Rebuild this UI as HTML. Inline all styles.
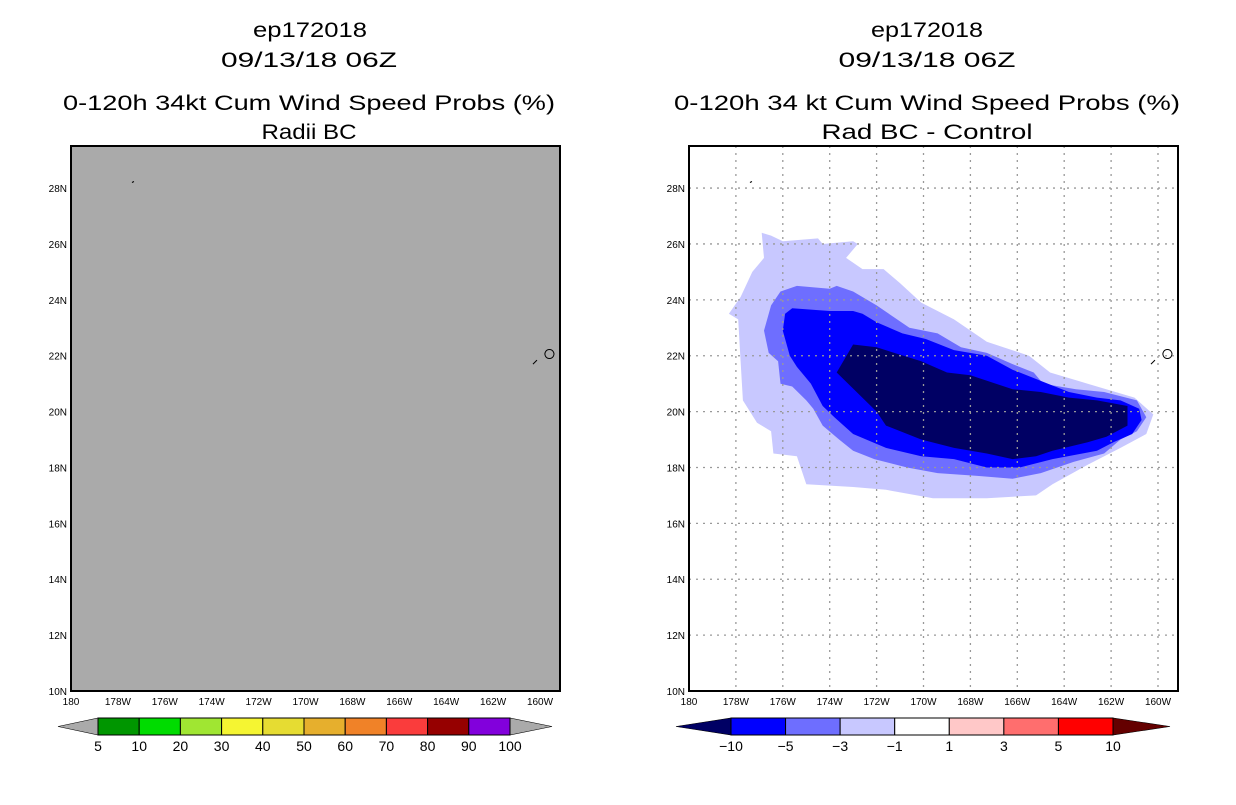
<!DOCTYPE html>
<html><head><meta charset="utf-8"><style>
body{margin:0;background:#fff;}
svg text{font-family:"Liberation Sans",sans-serif;}
</style></head><body>
<svg id="s" width="1236" height="800" xmlns="http://www.w3.org/2000/svg">
<g font-size="21" text-anchor="middle" fill="#000" lengthAdjust="spacingAndGlyphs">
<text x="310" y="37" textLength="114" lengthAdjust="spacingAndGlyphs">ep172018</text>
<text x="309" y="67" textLength="176" lengthAdjust="spacingAndGlyphs">09/13/18 06Z</text>
<text x="309" y="110" textLength="492" lengthAdjust="spacingAndGlyphs">0-120h 34kt Cum Wind Speed Probs (%)</text>
<text x="309" y="139" textLength="95" lengthAdjust="spacingAndGlyphs">Radii BC</text>
<text x="927" y="37" textLength="112" lengthAdjust="spacingAndGlyphs">ep172018</text>
<text x="927" y="67" textLength="177" lengthAdjust="spacingAndGlyphs">09/13/18 06Z</text>
<text x="927" y="110" textLength="506" lengthAdjust="spacingAndGlyphs">0-120h 34 kt Cum Wind Speed Probs (%)</text>
<text x="927" y="139" textLength="211" lengthAdjust="spacingAndGlyphs">Rad BC - Control</text>
</g>
</svg>
<script>
const lonTicks=[180,178,176,174,172,170,168,166,164,162,160];
const latTicks=[10,12,14,16,18,20,22,24,26,28];
const leftLevels=["5","10","20","30","40","50","60","70","80","90","100"];
const leftColors=["#009600","#00dc00","#a0e632","#f5f532","#e6dc32","#e6af2d","#f08228","#fa3c3c","#960000","#8200dc"];
const rightLevels=["-10","-5","-3","-1","1","3","5","10"];
const rightColors=["#0000ff","#6e6eff","#c8c8ff","#ffffff","#ffc8c8","#ff6e6e","#ff0000"];
const lightLon=[-176.9,-176.5,-176.0,-174.5,-174.3,-173.0,-172.8,-173.3,-172.6,-171.7,-171.0,-170.1,-168.7,-167.3,-165.5,-164.6,-163.0,-161.0,-160.2,-160.5,-161.6,-163.0,-164.5,-165.2,-167.3,-169.6,-171.6,-173.0,-175.0,-175.4,-176.4,-176.5,-177.1,-177.7,-177.8,-177.9,-178.3,-177.8,-177.3,-176.8];
const lightLat=[26.4,26.3,26.1,26.2,26.0,26.1,26.0,25.5,25.1,25.1,24.6,23.9,23.3,22.5,22.0,21.4,21.0,20.5,19.9,19.2,18.7,18.1,17.4,17.0,16.9,16.9,17.2,17.3,17.4,18.4,18.5,19.3,19.6,20.4,21.8,23.3,23.5,24.1,25.0,25.5];
const medLon=[-176.1,-175.4,-174.0,-173.7,-173.0,-172.0,-170.6,-169.4,-168.4,-167.3,-166.2,-165.3,-164.9,-163.5,-162.3,-160.9,-160.5,-160.9,-161.6,-162.3,-163.6,-165.0,-166.2,-167.7,-169.4,-170.7,-172.1,-173.0,-173.6,-174.3,-174.7,-175.0,-175.6,-176.1,-176.2,-176.6,-176.8,-176.5];
const medLat=[24.3,24.5,24.4,24.5,24.3,23.8,23.0,22.8,22.3,22.1,21.7,21.4,21.0,20.8,20.7,20.4,19.8,19.3,19.0,18.5,18.2,17.8,17.6,17.7,17.8,18.0,18.3,18.6,19.0,19.5,20.1,20.4,20.9,21.0,21.8,22.1,22.9,23.8];
const blueLon=[-175.9,-175.6,-174.0,-173.0,-172.6,-172.0,-170.9,-169.9,-168.7,-167.3,-166.2,-165.0,-163.8,-162.6,-161.6,-160.8,-160.7,-161.1,-161.9,-162.6,-164.5,-165.9,-167.3,-168.7,-170.1,-171.6,-173.0,-173.8,-174.3,-174.8,-175.4,-175.7,-176.0];
const blueLat=[23.5,23.7,23.6,23.6,23.5,23.2,22.8,22.6,22.2,22.0,21.5,21.1,20.7,20.5,20.4,20.1,19.7,19.2,18.9,18.6,18.3,18.0,18.0,18.3,18.4,18.7,19.2,19.8,20.2,21.0,21.6,22.0,22.9];
const navyLon=[-173.0,-172.0,-170.1,-169.0,-168.0,-166.2,-165.0,-163.8,-162.6,-161.3,-161.3,-161.3,-162.2,-163.0,-164.5,-165.2,-166.2,-167.3,-168.7,-170.1,-171.6,-172.0,-173.7];
const navyLat=[22.4,22.3,21.8,21.4,21.3,20.8,20.7,20.5,20.4,20.2,19.9,19.5,19.1,18.9,18.6,18.4,18.3,18.5,18.7,19.0,19.5,20.0,21.4];

const NS='http://www.w3.org/2000/svg';
const svg=document.getElementById('s');
const PXD=23.45, PYD=27.94, X0L=71, X0R=689, YB=691, YT=146, W=489;
function el(t,a,p){const e=document.createElementNS(NS,t);for(const k in a)e.setAttribute(k,a[k]);(p||svg).appendChild(e);return e;}
function panel(x0,side,gray){
  const g=el('g',{});
  
  
  const xs=lon=>x0+(lon+180)*PXD;
  const ys=lat=>YB-(lat-10)*PYD;
  const bg=el('rect',{x:x0,y:YT,width:W,height:YB-YT,fill:gray?'#aaaaaa':'#fff'},g);
  
  
  if(!gray){
    const polys=[[lightLon,lightLat,'#c8c8ff','contour-minus1'],[medLon,medLat,'#6e6eff','contour-minus3'],[blueLon,blueLat,'#0000ff','contour-minus5'],[navyLon,navyLat,'#000064','contour-minus10']];
    polys.forEach(([lo,la,c,n])=>{
      const pts=lo.map((v,i)=>xs(v).toFixed(1)+','+ys(la[i]).toFixed(1)).join(' ');
      const p=el('polygon',{points:pts,fill:c},g);
      
      
    });
    lonTicks.forEach((t,i)=>{if(i===0)return;const x=xs(-t);
      const l=el('line',{x1:x,x2:x,y1:YT,y2:YB,stroke:'#999',"stroke-width":1.3,"stroke-dasharray":"2,5"},g);
      
      });
    latTicks.forEach((t,i)=>{if(i===0)return;const y=ys(t);
      const l=el('line',{x1:x0,x2:x0+W,y1:y,y2:y,stroke:'#999',"stroke-width":1.3,"stroke-dasharray":"2,5"},g);
      
      });
  }
  const isl=el('path',{d:`M${xs(-159.6)},${ys(21.9)} a4.5,4.5 0 1,1 0.1,0 z M${xs(-160.3)},${ys(21.7)} l4,-4 M${xs(-177.4)},${ys(28.2)} l2,-1`,fill:'none',stroke:'#000',"stroke-width":1},g);
  
  
  const fr=el('rect',{x:x0,y:YT,width:W,height:YB-YT,fill:'none',stroke:'#000',"stroke-width":2},g);
  
  
  lonTicks.forEach(t=>{const x=xs(-t);
    const tx=el('text',{x:x,y:705,"font-size":10,"text-anchor":"middle"},g);
    tx.textContent=t===180?'180':t+'W';
    
    });
  latTicks.forEach(t=>{const y=ys(t);
    const tx=el('text',{x:x0-4,y:y+4,"font-size":10,"text-anchor":"end"},g);
    tx.textContent=t+'N';
    
    });
}
panel(X0L,'left',true);
panel(X0R,'right',false);

function colorbar(x0,x1,tl,tr,colors,labels,lc,rc,side){
  const g=el('g',{});
  
  
  const y0=718,y1=735,ym=726.5,bw=(x1-x0)/colors.length;
  const a=el('polygon',{points:`${tl},${ym} ${x0},${y0} ${x0},${y1}`,fill:lc,stroke:'#000',"stroke-width":0.6},g);
  
  
  const b=el('polygon',{points:`${tr},${ym} ${x1},${y0} ${x1},${y1}`,fill:rc,stroke:'#000',"stroke-width":0.6},g);
  
  
  colors.forEach((c,i)=>{
    const r=el('rect',{x:x0+i*bw,y:y0,width:bw,height:y1-y0,fill:c,stroke:'#000',"stroke-width":1},g);
    
    
  });
  labels.forEach((t,i)=>{
    const tx=el('text',{x:x0+i*bw,y:751,"font-size":14,"text-anchor":"middle"},g);
    tx.textContent=t.replace('-','\u2212');
    
    
  });
}
colorbar(98,510,58,552,leftColors,leftLevels,'#aaaaaa','#aaaaaa','left');
colorbar(731,1113,676,1170,rightColors,rightLevels,'#000064','#640000','right');
</script>
</body></html>
